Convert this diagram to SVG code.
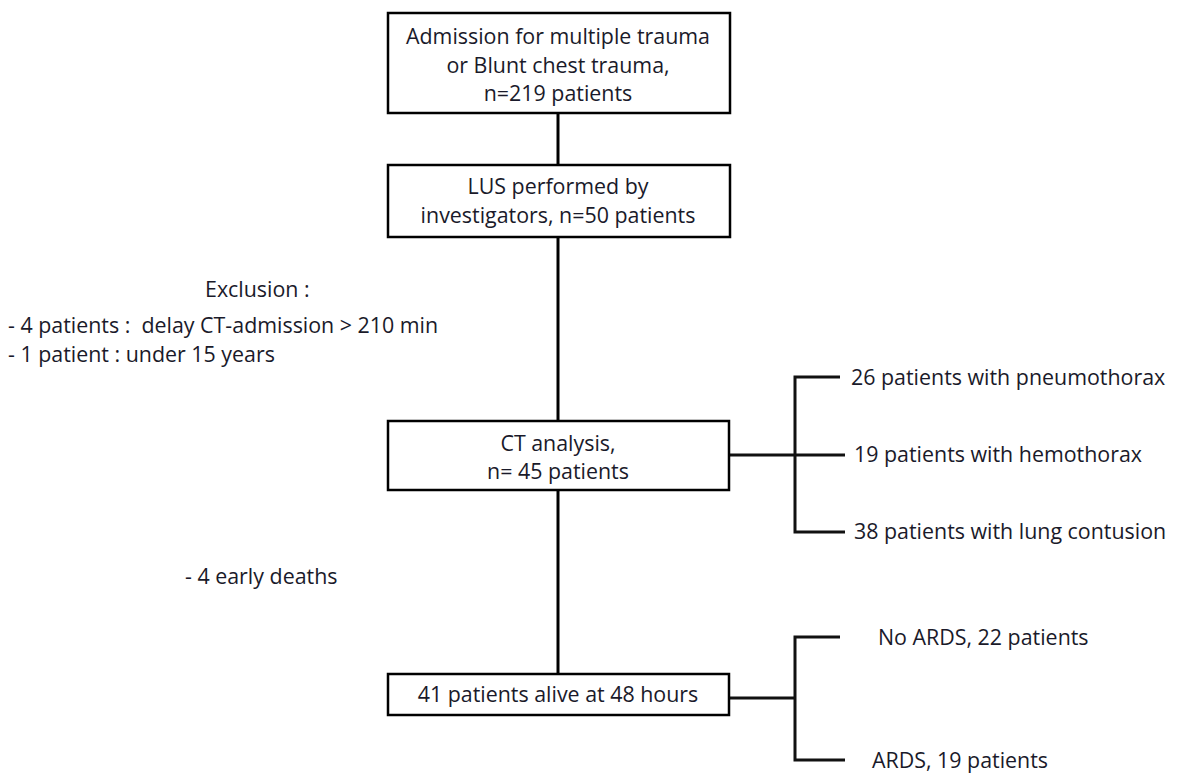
<svg xmlns="http://www.w3.org/2000/svg" width="1181" height="774" viewBox="0 0 1181 774">
<style>
text{font-family:"Open Sans","Liberation Sans",sans-serif;font-size:21.4px;fill:#1a1a2a;white-space:pre}
.c{text-anchor:middle}
.box{fill:#fff;stroke:#000;stroke-width:2.5}
.ln{fill:none;stroke:#000;stroke-width:3}
.br{fill:none;stroke:#111;stroke-width:3}
</style>
<rect width="1181" height="774" fill="#fff"/>
<g id="connectors">
<line class="ln" x1="558" y1="113" x2="558" y2="165"/>
<line class="ln" x1="558" y1="237" x2="558" y2="421"/>
<line class="ln" x1="558" y1="490" x2="558" y2="674"/>
<path class="br" d="M729 455H845M840 377H795V532H845"/>
<path class="br" d="M729 698H795M840 637H795V760H845"/>
</g>
<g id="n1"><rect class="box" x="388" y="13" width="342" height="100"/>
<text class="c" x="558" y="44">Admission for multiple trauma</text>
<text class="c" x="558" y="73">or Blunt chest trauma,</text>
<text class="c" x="558" y="101">n=219 patients</text></g>
<g id="n2"><rect class="box" x="388" y="165" width="342" height="72"/>
<text class="c" x="558" y="194">LUS performed by</text>
<text class="c" x="558" y="223">investigators, n=50 patients</text></g>
<g id="excl"><text x="205" y="297">Exclusion :</text>
<text x="8" y="333">- 4 patients :  delay CT-admission &gt; 210 min</text>
<text x="8" y="362">- 1 patient : under 15 years</text></g>
<g id="n3"><rect class="box" x="388" y="421" width="341" height="69"/>
<text class="c" x="558" y="451">CT analysis,</text>
<text class="c" x="558" y="479">n= 45 patients</text></g>
<g id="ct-out"><text x="851" y="385">26 patients with pneumothorax</text>
<text x="854" y="462">19 patients with hemothorax</text>
<text x="854" y="539">38 patients with lung contusion</text></g>
<g id="deaths"><text x="185" y="584">- 4 early deaths</text></g>
<g id="n4"><rect class="box" x="388" y="674" width="341" height="41"/>
<text class="c" x="558" y="702">41 patients alive at 48 hours</text></g>
<g id="ards"><text x="878" y="645">No ARDS, 22 patients</text>
<text x="872" y="768">ARDS, 19 patients</text></g>
</svg>
